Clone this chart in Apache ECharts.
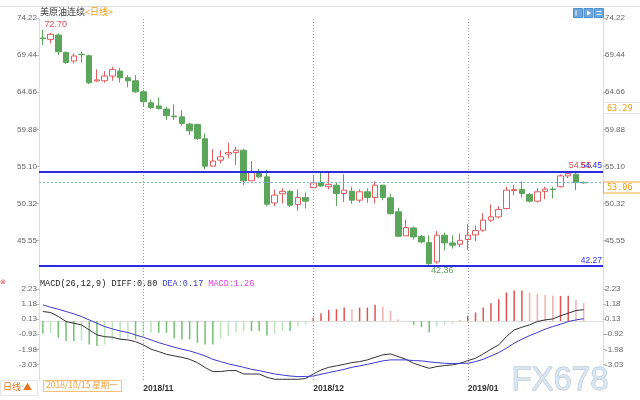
<!DOCTYPE html>
<html><head><meta charset="utf-8">
<script src="https://cdn.jsdelivr.net/npm/echarts@6/dist/echarts.min.js"></script>
<style>html,body{margin:0;padding:0;background:#fff}#c{width:640px;height:400px}</style>
</head><body><div id="c"></div>
<script>
const dates = [
 '2018/10/15','2018/10/16','2018/10/17','2018/10/18','2018/10/19','2018/10/22','2018/10/23','2018/10/24','2018/10/25','2018/10/26','2018/10/29','2018/10/30','2018/10/31',
 '2018/11/01','2018/11/02','2018/11/05','2018/11/06','2018/11/07','2018/11/08','2018/11/09','2018/11/12','2018/11/13','2018/11/14','2018/11/15','2018/11/16','2018/11/19','2018/11/20','2018/11/21','2018/11/22','2018/11/23','2018/11/26','2018/11/27','2018/11/28','2018/11/29','2018/11/30',
 '2018/12/03','2018/12/04','2018/12/05','2018/12/06','2018/12/07','2018/12/10','2018/12/11','2018/12/12','2018/12/13','2018/12/14','2018/12/17','2018/12/18','2018/12/19','2018/12/20','2018/12/21','2018/12/24','2018/12/26','2018/12/27','2018/12/28','2018/12/31',
 '2019/01/02','2019/01/03','2019/01/04','2019/01/07','2019/01/08','2019/01/09','2019/01/10','2019/01/11','2019/01/14','2019/01/15','2019/01/16','2019/01/17','2019/01/18','2019/01/21','2019/01/22','2019/01/23'
];
const opens = [71.65,71.47,72.03,69.80,68.68,69.55,69.36,66.12,66.14,66.75,67.39,66.53,66.14,
 64.72,63.30,62.90,62.50,61.60,61.50,60.56,60.52,58.67,55.15,55.92,56.70,56.90,57.20,53.26,54.42,53.77,50.42,51.60,51.90,50.22,51.10,
 52.40,53.05,52.50,52.70,51.63,51.93,50.77,51.85,51.12,52.70,51.07,49.27,46.17,47.20,46.10,45.30,42.82,46.26,45.27,45.10,
 45.70,46.30,46.90,48.20,48.62,49.70,52.00,52.15,51.50,50.64,51.90,52.20,52.50,53.90,54.10,53.06];
const closes = [71.55,72.12,69.88,68.50,69.33,69.50,65.88,66.25,66.75,67.60,66.53,66.14,64.72,
 63.44,62.70,62.56,61.64,61.50,60.65,59.70,58.72,55.15,55.80,56.35,56.90,57.20,53.26,54.42,53.77,50.25,51.42,51.90,50.13,51.12,50.64,
 53.00,52.60,52.80,51.63,52.06,50.77,51.85,51.12,52.70,51.12,49.05,46.13,47.25,46.04,45.40,42.60,46.26,45.27,44.97,45.60,
 46.26,46.86,48.20,48.62,49.57,52.06,52.15,51.63,50.64,51.85,52.20,52.15,53.90,54.22,53.06,53.00];
const lows = [70.74,70.96,69.45,68.30,68.38,68.46,65.70,66.00,65.90,66.14,65.90,65.29,64.60,
 62.88,62.50,62.45,61.10,61.08,60.35,59.14,58.50,54.73,55.15,55.50,56.15,55.30,52.70,53.26,53.60,50.00,50.00,50.35,49.90,49.40,49.70,
 52.40,52.50,52.15,50.00,50.55,50.30,50.45,50.45,50.35,50.77,48.90,46.04,46.17,45.70,45.20,42.36,42.60,44.30,44.55,44.75,
 44.33,45.50,46.70,47.98,48.40,49.57,51.40,51.10,50.45,50.45,50.90,51.00,52.40,53.60,52.06,52.90];
const highs = [72.70,72.33,72.25,69.90,69.67,69.90,69.50,67.60,67.40,67.95,67.80,66.87,66.87,
 64.94,63.70,64.00,62.80,63.10,62.35,60.73,60.60,59.36,57.34,57.20,58.15,57.64,57.40,55.80,54.80,54.70,52.15,52.30,52.10,52.15,51.76,
 53.86,54.42,54.42,53.10,54.10,52.50,52.15,52.30,53.20,52.75,51.60,49.80,48.27,47.40,46.30,46.26,46.80,46.60,46.26,46.48,
 47.68,47.50,49.10,50.20,50.00,52.50,52.70,53.20,51.70,52.30,52.50,52.50,54.10,54.50,54.55,53.20];
const macdBar = [-0.89,-0.82,-1.17,-1.40,-1.40,-1.36,-1.64,-1.75,-1.64,-1.33,-1.29,-1.22,-1.29,-1.10,-0.82,-0.82,-0.82,-1.22,-1.29,-1.29,-1.52,-1.64,-1.64,-1.24,-1.05,-0.77,-0.70,-0.70,-0.70,-1.01,-0.89,-0.70,-0.70,-0.40,-0.23,0.23,
 0.55,0.79,0.83,0.95,0.83,0.95,0.95,1.14,1.02,0.72,0.13,-0.03,-0.27,-0.43,-0.80,-0.38,-0.27,-0.20,0.08,0.37,0.60,0.95,1.25,1.54,2.00,2.14,2.14,2.00,1.91,1.84,1.77,1.77,1.77,1.49,1.26];
const diff = [0.67,0.60,0.32,-0.03,-0.15,-0.27,-0.62,-0.97,-1.09,-1.13,-1.27,-1.32,-1.44,-1.67,-1.97,-2.14,-2.33,-2.44,-2.54,-2.68,-2.91,-3.26,-3.54,-3.54,-3.47,-3.47,-3.71,-3.71,-3.71,-3.94,-4.08,-4.08,-4.08,-4.08,-4.03,-3.71,
 -3.43,-3.24,-3.14,-3.03,-2.91,-2.84,-2.72,-2.54,-2.37,-2.30,-2.49,-2.68,-2.96,-3.14,-3.31,-3.19,-3.12,-3.07,-2.96,-2.77,-2.61,-2.30,-1.97,-1.67,-1.09,-0.62,-0.43,-0.27,-0.03,0.08,0.15,0.37,0.55,0.74,0.80];
const dea = [1.14,0.97,0.83,0.67,0.51,0.32,0.08,-0.15,-0.38,-0.55,-0.69,-0.80,-0.97,-1.13,-1.32,-1.51,-1.67,-1.83,-1.97,-2.09,-2.26,-2.44,-2.68,-2.84,-3.00,-3.12,-3.24,-3.38,-3.47,-3.59,-3.71,-3.78,-3.85,-3.89,-3.89,-3.85,
 -3.73,-3.61,-3.50,-3.38,-3.24,-3.14,-3.03,-2.91,-2.79,-2.72,-2.72,-2.72,-2.77,-2.79,-2.86,-2.91,-2.96,-2.98,-2.96,-2.96,-2.84,-2.68,-2.44,-2.21,-1.90,-1.55,-1.27,-1.02,-0.80,-0.57,-0.38,-0.22,-0.03,0.08,0.17];
const monthStarts = ['2018/11/01','2018/12/03','2019/01/02'];
const priceTicks = [45.55,50.32,55.10,59.88,64.66,69.44,74.22];
const macdTicks = [-3.03,-1.98,-0.92,0.13,1.18,2.23];
const levelLines = [54.45, 42.27];
const lastPrice = 53.06;
const refPrice = 63.29;
const recentHighIndex = 69;

const candleData = dates.map((d,i)=>[opens[i],closes[i],lows[i],highs[i]]);
const iMax = highs.indexOf(Math.max(...highs));
const iMin = lows.indexOf(Math.min(...lows));
const barData = macdBar.map((v,i)=>{
  const prev = i>0 ? Math.abs(macdBar[i-1]) : 0;
  const grow = Math.abs(v) >= prev;
  const c = v>=0 ? (grow ? '#e25252' : '#f3b0b0') : (grow ? '#76bf76' : '#bfe3bf');
  return {value:v, itemStyle:{color:c}};
});
const monthLines = monthStarts.map(m=>({xAxis:m}));
const lblFont = {fontFamily:'Liberation Sans', fontSize:8, color:'#666'};
const boxLabel = (border)=>({show:true,position:'end',distance:1,verticalAlign:'top',color:'#f39c12',fontSize:8.5,fontFamily:'DejaVu Sans Mono',
  borderColor:border,borderWidth:1,backgroundColor:'#fff',padding:[1,8,0,3],formatter:p=>p.value.toFixed(2)});

const chart = echarts.init(document.getElementById('c'), null, {renderer:'canvas'});
chart.setOption({
  animation:false,
  grid:[{left:39,right:37,top:18,height:266},{left:39,right:37,top:284,height:96}],
  xAxis:[
    {type:'category',gridIndex:0,data:dates,max:dates.length+1,boundaryGap:true,axisLine:{show:false},axisTick:{show:false},axisLabel:{show:false},splitLine:{show:false}},
    {type:'category',gridIndex:1,data:dates,max:dates.length+1,boundaryGap:true,axisLine:{show:true,lineStyle:{color:'#ddd'}},axisTick:{show:false},
     axisLabel:{interval:(i,v)=>monthStarts.includes(v),formatter:v=>v.slice(0,7),align:'left',color:'#333',fontWeight:'bold',fontSize:8.5,fontFamily:'Liberation Sans',margin:4},splitLine:{show:false}}
  ],
  yAxis:[
    {type:'value',gridIndex:0,position:'left',min:39.98,max:74.22,axisLine:{show:true,lineStyle:{color:'#ddd'}},
     axisTick:{show:true,customValues:priceTicks,length:3,lineStyle:{color:'#bbb'}},
     axisLabel:Object.assign({customValues:priceTicks,formatter:v=>v.toFixed(2),margin:2},lblFont),splitLine:{show:false}},
    {type:'value',gridIndex:0,position:'right',min:39.98,max:74.22,axisLine:{show:true,lineStyle:{color:'#ddd'}},
     axisTick:{show:true,customValues:priceTicks,length:3,lineStyle:{color:'#bbb'}},
     axisLabel:Object.assign({customValues:priceTicks,formatter:v=>v.toFixed(2),margin:2},lblFont),splitLine:{show:false}},
    {type:'value',gridIndex:1,position:'left',min:-4.13,max:2.60,axisLine:{show:true,lineStyle:{color:'#ddd'}},
     axisTick:{show:true,customValues:macdTicks,length:3,lineStyle:{color:'#bbb'}},
     axisLabel:Object.assign({customValues:macdTicks,formatter:v=>v.toFixed(2),margin:2},lblFont),splitLine:{show:false}},
    {type:'value',gridIndex:1,position:'right',min:-4.13,max:2.60,axisLine:{show:true,lineStyle:{color:'#ddd'}},
     axisTick:{show:true,customValues:macdTicks,length:3,lineStyle:{color:'#bbb'}},
     axisLabel:Object.assign({customValues:macdTicks,formatter:v=>v.toFixed(2),margin:2},lblFont),splitLine:{show:false}}
  ],
  series:[
    {type:'candlestick',xAxisIndex:0,yAxisIndex:0,data:candleData,barWidth:6,
     itemStyle:{color:'#ffffff',color0:'#5ca65c',borderColor:'#e35d5d',borderColor0:'#5ca65c',borderWidth:1},
     markLine:{silent:true,symbol:['none','none'],precision:2,
       data:[
         ...monthLines.map(m=>Object.assign({lineStyle:{color:'#999',type:[1,2],width:1},label:{show:false}},m)),
         ...levelLines.map(v=>({yAxis:v,lineStyle:{color:'#2b2be0',type:'solid',width:2},
             label:{show:true,position:'insideEndTop',distance:1,color:'#3030f0',fontSize:8.5,fontFamily:'Liberation Sans',formatter:p=>p.value.toFixed(2)}})),
         {yAxis:lastPrice,lineStyle:{color:'#79b4f2',type:[2,2],width:1},label:boxLabel('#f5a63a')},
         {yAxis:refPrice,lineStyle:{color:'rgba(255,255,255,0)',width:0.01},label:boxLabel('#e4e4e4')}
       ]},
     markPoint:{symbol:'circle',symbolSize:0.1,itemStyle:{color:'rgba(0,0,0,0)'},silent:true,
       label:{show:true,position:'inside',fontSize:9,fontFamily:'Liberation Sans',formatter:p=>p.value},
       data:[
         {coord:[dates[iMax],highs[iMax]],value:highs[iMax].toFixed(2),label:{color:'#e05050',offset:[13,-5]}},
         {coord:[dates[iMin],lows[iMin]],value:lows[iMin].toFixed(2),label:{color:'#5aa05a',offset:[13,5]}},
         {coord:[dates[recentHighIndex],highs[recentHighIndex]],value:highs[recentHighIndex].toFixed(2),label:{color:'#e05050',offset:[4,-5]}}
       ]}
    },
    {type:'bar',xAxisIndex:1,yAxisIndex:2,data:barData,barWidth:1.5,silent:true},
    {type:'line',xAxisIndex:1,yAxisIndex:2,data:diff,showSymbol:false,lineStyle:{color:'#333',width:1},silent:true,
     markLine:{silent:true,symbol:['none','none'],data:monthLines.map(m=>Object.assign({lineStyle:{color:'#999',type:[1,2],width:1},label:{show:false}},m))}},
    {type:'line',xAxisIndex:1,yAxisIndex:2,data:dea,showSymbol:false,lineStyle:{color:'#3a3acc',width:1},silent:true}
  ],
  graphic:[
    {type:'line',shape:{x1:0,y1:6.5,x2:640,y2:6.5},style:{stroke:'#dddddd',lineWidth:1},silent:true},
    {type:'text',left:40,top:7,style:{text:'{a|美原油连续}{b|<日线>}',rich:{
      a:{fill:'#333',fontSize:9,fontFamily:'Noto Sans CJK SC'},b:{fill:'#f39c12',fontSize:9,fontFamily:'Noto Sans CJK SC'}}}},
    {type:'rect',shape:{x:573.5,y:8.5,width:9,height:9},style:{fill:'#6ea6dc',stroke:'#4d8fd0'}},
    {type:'rect',shape:{x:584,y:8.5,width:9,height:9},style:{fill:'#6ea6dc',stroke:'#4d8fd0'}},
    {type:'rect',shape:{x:594.5,y:8.5,width:9,height:9},style:{fill:'#6ea6dc',stroke:'#4d8fd0'}},
    {type:'rect',shape:{x:575.5,y:10.5,width:1,height:5},style:{fill:'#fff'}},
    {type:'polygon',shape:{points:[[587,10.5],[591,13],[587,15.5]]},style:{fill:'#fff'}},
    {type:'rect',shape:{x:596.5,y:11,width:5,height:1},style:{fill:'#fff'}},
    {type:'rect',shape:{x:596.5,y:14,width:5,height:1},style:{fill:'#fff'}},
    {type:'text',left:40,top:279,style:{text:'{a|MACD(26,12,9) DIFF:0.80 }{b|DEA:0.17 }{c|MACD:1.26}',rich:{
      a:{fill:'#222',fontSize:8.5,fontFamily:'Liberation Mono'},
      b:{fill:'#3a3acc',fontSize:8.5,fontFamily:'Liberation Mono'},
      c:{fill:'#e040e0',fontSize:8.5,fontFamily:'Liberation Mono'}}}},
    {type:'text',left:0,top:279,style:{text:'⊗',fill:'#e05050',fontSize:7}},
    {type:'rect',shape:{x:0.5,y:380.5,width:37,height:15},style:{fill:'#fff',stroke:'#e6e6e6'}},
    {type:'text',left:3,top:382,style:{text:'日线 ▲',fill:'#e8731c',fontSize:9,fontFamily:'Noto Sans CJK SC'}},
    {type:'rect',shape:{x:43.5,y:380.5,width:78,height:11},style:{fill:'#fff',stroke:'#f7c07a'}},
    {type:'text',left:46,top:381,style:{text:'2018/10/15 星期一',fill:'#f0a040',fontSize:8.5,fontFamily:'Noto Sans CJK SC'}},
    {type:'text',left:511,top:364.5,style:{text:'FX678',fill:'rgba(214,228,243,0.9)',stroke:'#aeb8c2',lineWidth:0.8,fontSize:33,fontFamily:'Liberation Sans',verticalAlign:'middle'},silent:true}
  ]
});
</script></body></html>
